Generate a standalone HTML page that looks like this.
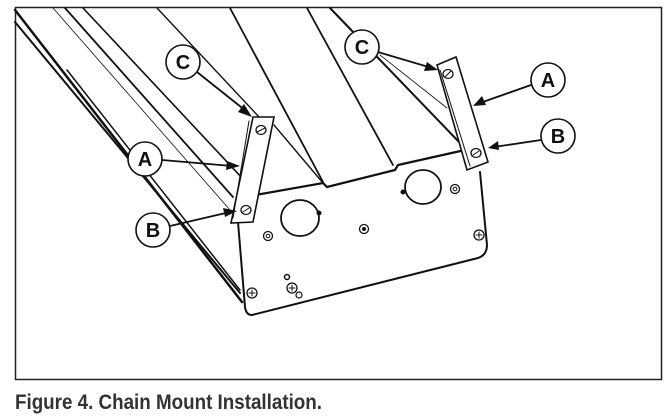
<!DOCTYPE html>
<html><head><meta charset="utf-8"><style>
html,body{margin:0;padding:0;background:#fff;width:667px;height:419px;overflow:hidden}
svg{display:block}
</style></head><body>
<svg width="667" height="419" viewBox="0 0 667 419" xmlns="http://www.w3.org/2000/svg">
<rect x="15.5" y="7.5" width="646" height="372" fill="none" stroke="#222" stroke-width="1.5"/>
<g stroke="#111" fill="none" stroke-linecap="round">
<line x1="15" y1="10" x2="242" y2="302" stroke-width="2.5"/>
<line x1="15" y1="22" x2="240" y2="293" stroke-width="2"/>
<line x1="67" y1="70" x2="240" y2="290" stroke-width="1.5"/>
<line x1="53" y1="8" x2="230" y2="210" stroke-width="0.8"/>
<line x1="65" y1="8" x2="233" y2="197" stroke-width="1.8"/>
<line x1="83" y1="8" x2="258" y2="195" stroke-width="1.6"/>
<line x1="157" y1="8" x2="260" y2="118" stroke-width="1.4"/>
<line x1="274" y1="125" x2="323" y2="183" stroke-width="1.4"/>
<line x1="230" y1="8" x2="323" y2="182" stroke-width="1.8"/>
<line x1="307" y1="8" x2="393" y2="165" stroke-width="1.8"/>
<line x1="330" y1="8" x2="460" y2="143" stroke-width="2"/>
<line x1="380" y1="55" x2="447" y2="108" stroke-width="0.8"/>
<path d="M238,222 L245,307 Q246,315 252,315 L478,258 Q487,255 487,245 L480,172" stroke-width="2"/>
<path d="M250,196 L323,183 L327,187 L395,170 L398,165 L465,150" stroke-width="2.2"/>
<ellipse cx="300" cy="218" rx="19" ry="18" stroke-width="1.8"/>
<ellipse cx="423" cy="187" rx="18" ry="17" stroke-width="1.8"/>
<circle cx="319" cy="213" r="2" fill="#111"/>
<circle cx="403" cy="192" r="2" fill="#111"/>
<circle cx="268" cy="236" r="4.5" stroke-width="1.3"/><circle cx="268" cy="236" r="1.8" stroke-width="1"/>
<circle cx="364" cy="229" r="4.5" stroke-width="1.3"/><circle cx="364" cy="229" r="1.5" fill="#111"/>
<circle cx="455" cy="189" r="4.5" stroke-width="1.3"/><circle cx="455" cy="189" r="1.8" stroke-width="1"/>
<circle cx="479" cy="235" r="5" stroke-width="1.3"/><path d="M476,235h6M479,232v6" stroke-width="1"/>
<circle cx="252" cy="293" r="5" stroke-width="1.3"/><path d="M249,293h6M252,290v6" stroke-width="1"/>
<circle cx="292" cy="288" r="5" stroke-width="1.3"/><path d="M289,288h6M292,285v6" stroke-width="1"/>
<circle cx="299" cy="295" r="3" stroke-width="1.2"/>
<circle cx="287" cy="277" r="2.5" stroke-width="1.5"/>
<path d="M253,117 L274,117 L253,222 L231,223 Z" fill="#fff" stroke-width="1.6"/>
<line x1="249" y1="121" x2="233" y2="218" stroke-width="1"/>
<ellipse cx="261" cy="130" rx="5" ry="4.5" stroke-width="1.3"/><line x1="257" y1="132" x2="265" y2="128" stroke-width="1"/>
<ellipse cx="246" cy="210" rx="5" ry="4.5" stroke-width="1.3"/><line x1="243" y1="212" x2="249" y2="208" stroke-width="1"/>
<path d="M437,65 L456,57 L488,162 L467,170 Z" fill="#fff" stroke-width="1.6"/>
<line x1="440" y1="70" x2="470" y2="166" stroke-width="1"/>
<ellipse cx="448" cy="74" rx="5" ry="4.5" stroke-width="1.3"/><line x1="445" y1="77" x2="451" y2="71" stroke-width="1"/>
<ellipse cx="476" cy="153" rx="5" ry="4.5" stroke-width="1.3"/><line x1="473" y1="155" x2="479" y2="151" stroke-width="1"/>
<line x1="197" y1="72" x2="246" y2="111" stroke-width="1.8"/>
<line x1="162" y1="160" x2="232" y2="166" stroke-width="1.8"/>
<line x1="170" y1="226" x2="230" y2="212" stroke-width="1.8"/>
<line x1="378" y1="52" x2="432" y2="68" stroke-width="1.8"/>
<line x1="531" y1="85" x2="480" y2="103" stroke-width="1.8"/>
<line x1="541" y1="140" x2="494" y2="147" stroke-width="1.8"/>
</g>
<g fill="#111">
<polygon points="252,117 238,112 244,104"/>
<polygon points="240,166 226,170 227,161"/>
<polygon points="237,211 225,217 223,208"/>
<polygon points="438,70 424,71 427,62"/>
<polygon points="473,106 482,96 486,105"/>
<polygon points="488,148 498,141 499,150"/>
</g>
<g fill="#fff" stroke="#111" stroke-width="1.6">
<circle cx="183" cy="62" r="17"/><circle cx="145" cy="159" r="17"/><circle cx="153" cy="230" r="17"/>
<circle cx="362" cy="47" r="17"/><circle cx="548" cy="80" r="17"/><circle cx="558" cy="136" r="17"/>
</g>
<g font-family="Liberation Sans, sans-serif" font-weight="bold" font-size="20" fill="#111" text-anchor="middle">
<text x="183" y="69">C</text><text x="145" y="166">A</text><text x="153" y="237">B</text>
<text x="362" y="54">C</text><text x="548" y="87">A</text><text x="558" y="143">B</text>
</g>
<text x="15" y="409" font-family="Liberation Sans, sans-serif" font-weight="bold" font-size="21" fill="#333" textLength="307" lengthAdjust="spacingAndGlyphs">Figure 4. Chain Mount Installation.</text>
</svg>
</body></html>
